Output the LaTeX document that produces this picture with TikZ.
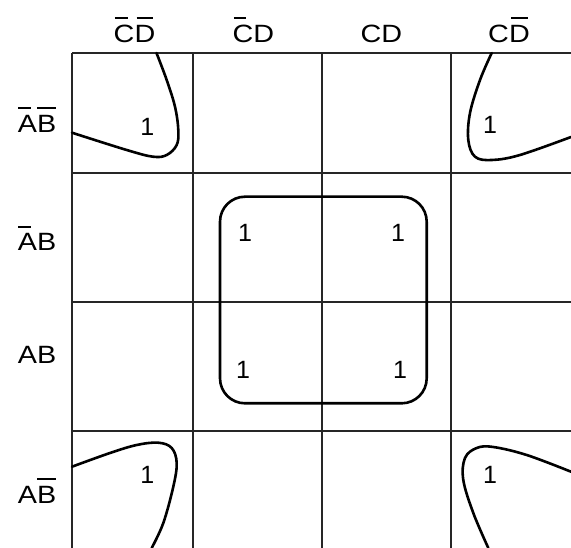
\documentclass[tikz,border=0pt]{standalone}
\usepackage{fontspec}
\usepackage{graphicx}
\setmainfont{Liberation Sans}
\newcommand\ovl[3]{\begingroup\setbox0\hbox{#3}\rlap{\hspace{#2\wd0}\raisebox{\dimexpr\ht0+6pt}{\rule{#1\wd0}{2pt}}}\box0\endgroup}
\newcommand\lbl[1]{\scalebox{1.15}[1]{#1}}
\tikzset{
  grid line/.style={line width=1.7pt, black!85},
  loop line/.style={line width=2.6pt, black, line cap=round, line join=round},
  cell one/.style={inner sep=0pt, font=\fontsize{25}{30}\selectfont},
  var label/.style={inner sep=0pt, anchor=base, font=\fontsize{25}{30}\selectfont},
}
\begin{document}
\begin{tikzpicture}[x=1pt,y=-1pt]
\useasboundingbox (0,0) rectangle (571,548);
\fill[white] (0,0) rectangle (571,548);
% grid
\foreach \yy in {53,173,302,431} \draw[grid line] (72,\yy) -- (571,\yy);
\foreach \xx in {72,193,322,451} \draw[grid line] (\xx,53) -- (\xx,548);
% column labels
\node[var label] (c0) at (134.5,42.7) {\lbl{\ovl{0.65}{0.05}{C}\ovl{0.8}{0.1}{D}}};
\node[var label] (c1) at (253.5,42.7) {\lbl{\ovl{0.6}{0.05}{C}D}};
\node[var label] (c2) at (381.5,42.7) {\lbl{CD}};
\node[var label] (c3) at (509,42.7) {\lbl{C\ovl{0.8}{0.1}{D}}};
% row labels
\node[var label] (r0) at (37,132.7) {\lbl{\ovl{0.65}{0.02}{A}\ovl{0.95}{0.02}{B}}};
\node[var label] (r1) at (37,251) {\lbl{\ovl{0.65}{0.02}{A}B}};
\node[var label] (r2) at (37,364) {\lbl{AB}};
\node[var label] (r3) at (37,503) {\lbl{A\ovl{0.95}{0.02}{B}}};
% ones
\node[cell one] (o1) at (147.3,126.7) {1};
\node[cell one] (o2) at (490,125) {1};
\node[cell one] (o3) at (147.3,475) {1};
\node[cell one] (o4) at (490,475) {1};
\node[cell one] (o5) at (245,233) {1};
\node[cell one] (o6) at (398,233) {1};
\node[cell one] (o7) at (243,370) {1};
\node[cell one] (o8) at (400,370) {1};
% loops
\draw[loop line] plot[smooth, tension=0.6] coordinates {(156.5,53) (166.7,80) (175,106.7) (178.3,130) (176.7,145) (166.7,155) (153,156.7) (126.7,150) (72,132.7)};
\draw[loop line] plot[smooth, tension=0.6] coordinates {(491.7,53) (480,80) (470,113) (468.3,140) (475,156.7) (491.7,160) (520,155) (571,137)};
\draw[loop line] plot[smooth, tension=0.6] coordinates {(72,466.7) (110,453) (136.7,445) (158.3,442.7) (171.7,448) (176.7,463) (173.3,486.7) (163.3,523) (151.7,548)};
\draw[loop line] plot[smooth, tension=0.6] coordinates {(488.3,548) (473.3,513) (463.3,480) (465,458) (476.7,448) (493.3,447) (526.7,455) (571,471.7)};
\draw[loop line, rounded corners=25pt] (220,196.7) rectangle (426.7,403.3);
\end{tikzpicture}
\end{document}
